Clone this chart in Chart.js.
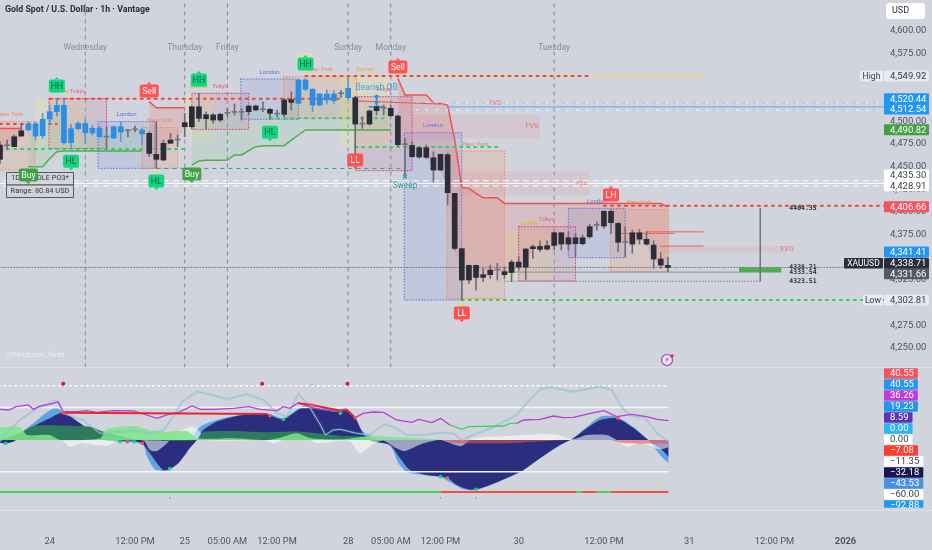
<!DOCTYPE html>
<html>
<head>
<meta charset="utf-8">
<title>Gold Spot / U.S. Dollar</title>
<script src="https://cdn.jsdelivr.net/npm/chart.js@4"></script>
<style>
  html, body { margin: 0; padding: 0; background: #d1d4dc; }
  canvas { display: block; }
</style>
</head>
<body>
<canvas id="chart" width="932" height="550"></canvas>
<script>
// candles, one per hour
const opens = [4473.8,4473.1,4483,4489.6,4490.4,4483.7,4484.1,4502.5,4510.6,4476.4,4476.4,4491.9,4487.4,4487,4483,4482.6,4481.5,4488.2,4489.6,4490.7,4486,4486.7,4463.5,4475.7,4479.3,4479.3,4498.5,4516.1,4516.1,4507.3,4507,4507.7,4508.8,4509.9,4509.9,4516.9,4516.9,4512.8,4513.2,4508,4523.5,4523.9,4519.8,4535.6,4518,4518,4523.5,4522.8,4530.5,4526.1,4526.1,4497,4511.4,4516.1,4514.3,4514.3,4505.8,4474.2,4473.4,4470.9,4470.9,4459.8,4463.5,4463.1,4420.5,4359.4,4341,4341,4330.7,4335.8,4335.8,4334,4344.6,4344.6,4359,4361.6,4361.9,4362.7,4377,4377,4371.5,4371.5,4371.5,4383.7,4385.1,4400.6,4400.6,4387.3,4366,4377,4377,4369.7,4363.4,4348,4341];
const highs = [4477.5,4479.3,4484.9,4497.7,4499.6,4499.6,4508.8,4518,4525,4525,4497,4499.6,4502.2,4495.9,4494.8,4494,4494.8,4499.6,4491,4494.8,4492.2,4488.5,4499.6,4479.3,4486.7,4484.9,4508.8,4516.9,4530.9,4510.6,4508.8,4508.8,4514.3,4519.1,4514.3,4518,4518,4521.6,4514.3,4512.5,4525.3,4532.7,4546.3,4547.4,4536.4,4530.9,4534.5,4533.8,4533.8,4549.9,4527.2,4505.1,4512.5,4529,4518,4518,4506.9,4481.2,4477.5,4472,4473.8,4466.5,4463.9,4464.6,4420.5,4359.7,4341.3,4341.3,4337.7,4341.3,4343.2,4339.5,4346.9,4350.5,4359.7,4363.4,4368.2,4368.2,4378.1,4377,4378.1,4376.3,4374.5,4386.6,4389.2,4401.3,4402,4388.1,4383.7,4380,4380.7,4378.1,4368.2,4355,4349.8];
const lows = [4453.6,4469,4472,4483.7,4489.6,4479.3,4481.2,4495.9,4505.8,4474.9,4470.1,4490.4,4475.7,4484.9,4482.3,4470.1,4481.2,4477.5,4483,4488.6,4473.8,4461,4448.1,4456.5,4475.7,4472,4483,4492.2,4499.6,4491.1,4497.7,4499.6,4505.8,4507,4501.4,4507,4511.7,4510.6,4502.2,4505.1,4505.1,4512.5,4519.1,4533.8,4510.6,4516.9,4519.1,4519.8,4526.4,4523.5,4464.6,4492.2,4495.9,4506.9,4506.9,4505.1,4472,4440.7,4460.2,4459.1,4459.1,4433.3,4445.5,4407.6,4357.9,4302.8,4321.1,4313.7,4322.9,4326.6,4324.8,4326.6,4322.9,4335.8,4324.8,4348.7,4356,4357.9,4357.9,4357.9,4357.9,4350.5,4363.4,4370.8,4380,4381.8,4376.3,4356,4350.5,4354.2,4364.5,4363.4,4337.6,4337.6,4334];
const closes = [4458,4473.1,4472,4483.7,4497,4497,4502.2,4510.6,4517.6,4517.6,4491.9,4497.7,4497.7,4492.2,4492.6,4482.6,4494,4494,4489.6,4490.7,4490.4,4464.6,4458,4457.3,4475.7,4479.3,4494,4494,4503.3,4502.9,4501.4,4501.4,4508.8,4509.9,4509.9,4510.6,4512.5,4512.8,4508.8,4508,4507.7,4520.9,4545.6,4545.6,4535.3,4530.1,4530.1,4530.1,4530.5,4536.4,4497,4497,4497,4511.7,4514.3,4506.2,4474.2,4474.2,4460.9,4460.6,4460.2,4446.2,4446.2,4421.2,4359.7,4324.8,4324.8,4327.7,4327.7,4330.7,4335.8,4330.7,4333.2,4339.1,4339.1,4359.4,4358.6,4359,4363,4364.5,4364.5,4364.9,4364.9,4372.6,4385.1,4384.4,4388.1,4366.4,4366,4364.5,4370,4364.5,4348,4341.3,4338.7];

// trailing stops
const redTrail = [4492,4492,4492,4492,null,null,null,null,null,null,null,null,null,null,null,null,null,null,null,null,null,4521.7,4515,4515,4515,4515,4515,null,null,null,null,null,null,null,null,null,null,null,null,null,null,null,null,null,null,null,null,null,null,null,null,null,null,null,null,null,4547.4,4529,4529,4529,4529,4520.6,4519.8,4518,4479.3,4427.1,4426,4420.5,4415.7,4415.7,4415.7,4409.4,4409.4,4409.4,4409.4,4409.4,4409.4,4409.4,4409.4,4409.4,4409.4,4409.4,4409.4,4409.4,4409.4,4409.4,4409.4,4409.4,4409.4,4409.4,4409.4,4409.4,4409.4,4409.4,4405.7];
const greenTrail = [null,null,null,null,4449.9,4449.9,4449.9,4459,4466.5,4467.2,4467.2,4467.2,4467.2,4467.2,4467.2,4467.2,4467.2,4467.2,4467.2,4467.2,4467.2,null,null,null,null,null,null,4451.7,4456.2,4456.9,4456.9,4456.9,4457.3,4462.8,4462.8,4467.6,4472,4472.7,4473.1,4473.1,4473.1,4479.3,4484.9,4490.4,4490.4,4490.4,4490.4,4490.4,4490.4,4490.4,4490.4,4490.4,4490.4,4490.4,4490.4,4490.4];

// session boxes
const sessionNames = ["New York","Sydney","Tokyo","London","New York","Sydney","Tokyo","London","New York","Sydney","Tokyo","London","New York","Sydney","Tokyo","London","New York"];
const sessionStart = [-2,4.9,6.9,13.8,20,26,27,33.9,39.9,47.9,50,56.9,62.9,71,73,80,85.9];
const sessionEnd = [4.9,12,15,21.8,25,30,35,42,50.2,54.9,58,65,71,78,81,88,94.1];
const sessionTop = [4499.6,4525.3,4525,4499.6,4493.3,4530.9,4530.9,4546.7,4549.3,4549.3,4527.2,4487.4,4467.2,4380,4383.7,4403.9,4402.8];
const sessionBottom = [4446.2,4472,4470.1,4448.1,4448.1,4481.2,4491.1,4502.2,4503.3,4472,4445.5,4302.7,4304.5,4322.9,4323.7,4349.4,4334];

// fair value gaps
const fvgStart = [58,65,92.9];
const fvgEnd = [76,83,110.8];
const fvgTop = [4507,4445,4362.3];
const fvgBottom = [4481.2,4418,4355];

// structure signals
const signalText = ["HH","Sell","HL","HH","Buy","Buy","HL","HL","HH","Sell","LL","LL","LH"];
const signalIndex = [8,21,10,28,4,27,22,38,43,56,50,65,86];
const signalPrice = [4539,4533.5,4456,4545.6,4440.7,4441.8,4434,4488,4563.2,4560,4457.3,4288.4,4418.7];

// x axis
const tickIndex = [7,19,26,32,39,49,55,62,73,85,97,109,119];
const tickText = ["24","12:00 PM","25","05:00 AM","12:00 PM","28","05:00 AM","12:00 PM","30","12:00 PM","31","12:00 PM","2026"];
const dayText = ["Wednesday","Thursday","Friday","Sunday","Monday","Tuesday"];
const dayIndex = [12,26,32,49,55,78];

// price tags on the right
const tagValues = [4549.92,4520.44,4512.54,4490.82,4435.30,4428.91,4406.66,4341.41,4338.71,4331.66,4302.81];
const tagKinds = ["high","blue","blue","green","white","white","red","blue","dark","grey","low"];
const tagNudge = [0,-4,-1,0,-5,0,1,-13,-4,0,0];

// oscillator pane, read at turning points
const navyX = [0,.9,2.1,4.7,7,8.9,11.3,13.1,15,16.9,18.8,20,21.1,22.1,23,23.9,25.1,26.3,27.7,28.6,30.5,32.9,35.2,37.6,39,39.9,41.3,42.7,44.6,46.9,47.9,48.8,50,51.1,52.3,54.9,56.3,57.7,60.1,62,63,64.3,65.9,67,69,71.3,73.7,76,78.4,80.7,82.6,84.5,86.8,89.2,91.5,92.9,94.1];
const navyY = [-3.3,-4.2,-.8,16.7,27.1,34.2,20.8,8.3,0,-.8,-.8,-4.2,-16.7,-29.2,-37.5,-36.3,-29.2,-14.6,0,12.5,22.9,29.2,32.1,32.1,27.1,25.8,33.3,40.8,39.6,35.4,35.4,37.5,27.9,8.3,-1.3,-6.3,-22.9,-37.5,-43.8,-45.8,-47.1,-56.3,-61.7,-61.7,-56.3,-47.9,-37.5,-22.9,-8.3,2.1,14.6,25,27.1,14.6,-2.1,-10.4,-20.8];
const blueX = [0,2.8,4.7,6.1,7.7,8.9,11.3,13.1,15,20,20.7,21.8,23,23.9,26.3,27,28.2,30.5,35.2,37.6,39.9,41.3,42.7,44.6,47.9,48.8,51.1,54.9,56.1,57.2,59.6,62,65.2,67,69,80.7,82.6,84.5,86.8,89.2,91.5,92.9,94.1];
const blueY = [-2.9,8.3,20.8,31.3,39.6,35.4,18.8,5,-.8,-5,-20.8,-36.7,-38.8,-37.5,-16.7,4.2,16.7,25,33.3,33.3,27.1,35.4,42.5,40.8,38.3,39.6,10.4,-7.5,-29.2,-39.6,-43.8,-46.7,-61.7,-62.5,-56.3,2.9,16.7,29.2,29.2,15.8,-2.1,-18.8,-29.2];
const darkGreenX = [0,2.8,4.7,9.4,12.7,14.6,19.7,27.7,28.2,28.6,32.9,37.6,42.3,47.9,51.1,52.5];
const darkGreenY = [0,8.3,17.5,17.9,16.7,10.4,0,0,6.3,10.4,11.3,9.6,10.4,5.4,4.2,0];
const lightGreenX = [0,2.8,3.8,7,8.5,14.1,15,18.8,21.1,23.5,26.3,27.7,32.9,37.6,39.9,41.8,43.7,47.9,51.1,52.5,57.2,61.5,62.4];
const lightGreenY = [15.8,15.8,6.3,6.3,0,2.1,13.3,17.5,12.5,10.4,11.3,2.1,2.1,0,4.2,8.3,2.1,.8,4.2,5,2.9,.8,0];
const paleX = [0,8.5,9.9,11.3,15,16.9,20.2,21.1,22.1,23.5,24.9,26.8,27.9,29.1,37.1,38.5,39.9,43.7,44.4,47.9,49.3,50.7,52.3,54,55.8,57,59.6,62,64.1,65,66.6,71.3,76,78.4,80.7,82.6,85.4,86.8,88.2,90.1,92.9,94.1];
const paleY = [0,0,-8.3,-4.2,-7.5,0,-.8,-12.5,-13.8,-4.2,8.3,16.7,12.5,0,0,-4.2,0,0,-4.2,-.8,-2.1,-16.7,-6.3,-.8,-10.4,-13.8,-4.2,0,-6.3,-7.5,2.1,5,7.1,6.3,1.3,6.3,6.3,0,-8.3,-3.3,-11.7,-9.2];
const salmonX = [62.4,63.8,66.6,70.4,73.2,77,79.8,86,86.3,88.2,94.1];
const salmonY = [0,-3.3,-4.2,-4.2,-3.3,-1.3,0,0,-.8,-4.2,-5];
const skyX = [0,.9,2.8,5.2,8,8.9,11.7,14.1,16.4,18.8,21.1,23,24.4,25.6,27.7,30,31.9,34.7,37.1,39,40.4,42,43.4,45.1,45.8,46.9,47.9,50.2,52.1,54,55.4,57.2,59.6,62,63.8,65,66.6,69,70.9,72.7,74.1,76,77.4,80.7,84.5,86.1,87.8,89.2,90.6,92.5,94.1];
const skyY = [-2.1,8.3,25,39.6,49.2,33.3,25,8.3,10.4,11.7,8.3,12.5,29.2,47.9,60.4,56.3,50.8,57.5,50,33.3,29.2,58.3,43.8,18.8,6.3,12.5,13.3,8.3,6.3,19.6,16.7,6.3,6.3,9.2,8.3,0,6.3,14.6,22.9,31.3,45.8,63.3,65.8,60.4,66.7,62.5,37.5,29.2,29.2,8.3,-2.1];
const magentaX = [0,1.2,2.3,4,4.7,5.6,7.5,8.2,8.9,10.8,12.2,13.6,16,18.8,20.2,22.1,23.5,25.1,27,28.2,30,32.9,35,36.6,39,39.9,40.8,42,43.4,45.1,47.9,48.8,50,51.1,52.5,54,55.8,58,58.9,60.8,62,63.3,66,72.7,73.7,76,77.9,79.3,80.7,83.1,85,86.8,88.9,91,92.5,94.1];
const magentaY = [38.3,37.5,41.7,43.8,38.3,42.5,45.8,47.9,35.4,35.4,36.7,34.6,36.7,36.3,32.5,27.1,31.3,34.2,42.5,38.3,38.3,39.6,41.7,38.3,36.7,41.7,39.6,46.7,41.7,38.3,35.4,38.3,27.9,33.3,35,34.6,25,22.1,25.8,21.7,27.1,18.8,null,20.8,25,25.8,30,27.9,28.3,33.3,36.7,29.2,32.1,29.2,25.8,24.2];
const limeX = [63.3,65,65.9,70.9,71.8,72.7];
const limeY = [18.8,13.3,16.7,17.5,20.8,20.8];
const redLineX = [8.9,37.6,39,42,43.9,47.9,48.8,50];
const redLineY = [34.2,32.5,null,45.8,43.8,36.7,37.5,27.9];
const greenDotX = [.8,16.9,18.9,23.9,39.9,47.9,62,67];
const greenDotY = [-4.2,-2.1,-2.1,-35.8,25.8,33.3,-45.8,-61.7];
const redDotX = [8.9,17.9,20,38,43.9,50,63,87];
const redDotY = [34.2,-2.1,-4.2,30.4,43.8,27.9,-47.1,27.1];
const alertDotX = [8.9,36.9,48.9];
const alertDotY = [70.4,70.4,70.4];
const faintDotX = [23.9,62,67,43.9];
const faintDotY = [-72.1,-72.1,-72.1,69.6];
const stateGreenRuns = [[-1,62],[81.1,81.9],[84,86]];
const stateRedRuns = [[62,81.1],[81.9,84],[86,94.1]];

// oscillator tags, top to bottom
const oscTagText = ["40.55","40.55","36.26","19.23","8.59","0.00","0.00","\u22127.08","\u221211.35","\u221232.18","\u221243.53","\u221260.00","\u221292.88"];
const oscTagFill = ["#f7525f","#2196f3","#c13bd6","#2196f3","#5e35b1","#29b6f6","#ffffff","#ff3d2e","#ffffff","#1a1450","#4a90e2","#ffffff","#2196f3"];

const fontFamily = "Roboto, sans-serif";
const sessionStyle = {
  "Sydney": { fill: "rgba(240,232,140,0.25)", line: null, text: "#e0b530" },
  "Tokyo": { fill: "rgba(190,110,150,0.18)", line: "#d9457a", text: "#e0608a" },
  "London": { fill: "rgba(110,130,225,0.16)", line: "#6b7be0", text: "#5f74d8" },
  "New York": { fill: "rgba(245,130,80,0.16)", line: "#f0925f", text: "#ef8a5a" },
};
const datasets = [];

function add(ds) {
  ds.order = -datasets.length; // later datasets sit on top
  datasets.push(ds);
}

function line(points, color, width, dash, axis) {
  add({
    type: "line", data: points, yAxisID: axis || "y", borderColor: color, borderWidth: width,
    borderDash: dash || [], pointRadius: 0, fill: false, tension: 0, spanGaps: false,
    borderCapStyle: dash && dash[0] < 3 ? "round" : "butt",
  });
}

function hline(price, from, to, color, width, dash) {
  line([{ x: from, y: price }, { x: to, y: price }], color, width, dash);
}

function box(x0, x1, top, bottom, color) {
  add({
    type: "line", data: [{ x: x0, y: top }, { x: x1, y: top }], yAxisID: "y", borderWidth: 0,
    pointRadius: 0, backgroundColor: color, fill: { value: bottom },
  });
}

function zip(xs, ys) {
  return xs.map((x, i) => ({ x: x, y: ys[i] }));
}

function oscArea(xs, ys, color) {
  add({
    type: "line", data: zip(xs, ys), yAxisID: "osc", borderWidth: 0, pointRadius: 0,
    backgroundColor: color, fill: { value: 0 }, tension: 0.25, spanGaps: false,
  });
}

function markers(points, axis, style, radius, color, rotation) {
  add({
    type: "line", data: points, yAxisID: axis, showLine: false, pointStyle: style, pointRadius: radius,
    pointBackgroundColor: color, pointBorderColor: color, pointBorderWidth: style === "crossRot" ? 1.5 : 0,
    pointRotation: rotation || 0,
  });
}

function trail(values, color, fillColor) {
  const points = values.map((v, i) => ({ x: i, y: v }));
  add({ type: "line", data: closes.map((v, i) => ({ x: i, y: v })), yAxisID: "y", borderWidth: 0, pointRadius: 0, fill: false });
  add({
    type: "line", data: points, yAxisID: "y", borderColor: color, borderWidth: 1.5, pointRadius: 0,
    backgroundColor: fillColor, fill: "-1", tension: 0, spanGaps: false,
  });
}

// vertical session separators
dayIndex.forEach((i) => line([{ x: i, y: 4630 }, { x: i, y: 4226 }], "#85888f", 1, [4, 4]));

// session and gap boxes
sessionNames.forEach((name, i) => {
  box(sessionStart[i], sessionEnd[i], sessionTop[i], sessionBottom[i], sessionStyle[name].fill);
});
fvgStart.forEach((s, i) => box(s, fvgEnd[i], fvgTop[i], fvgBottom[i], "rgba(240,90,110,0.10)"));
box(41.8, 44, 4576, 4567, "rgba(240,232,140,0.4)");
box(104, 110, 4338.7, 4333.2, "#4caf50");

trail(greenTrail, "#4caf50", "rgba(90,200,110,0.12)");
trail(redTrail, "#f0514f", "rgba(240,83,80,0.17)");

// session outlines
sessionNames.forEach((name, i) => {
  const st = sessionStyle[name];
  if (!st.line) return;
  line([
    { x: sessionStart[i], y: sessionTop[i] }, { x: sessionEnd[i], y: sessionTop[i] },
    { x: sessionEnd[i], y: sessionBottom[i] }, { x: sessionStart[i], y: sessionBottom[i] },
    { x: sessionStart[i], y: sessionTop[i] },
  ], st.line, 1, [1, 2]);
});

// levels
const dots = [2, 5];
hline(4338.71, -1, 119, "#70747c", 1, [1, 2]);
hline(4333.54, 71, 104, "#8b8e96", 1);
hline(4323.51, 71, 107, "#8b8e96", 1, [1, 2]);
hline(4549.92, 43, 99, "#f5dc5a", 2, [4, 3]);
hline(4549.92, 43, 83, "#f44336", 2, dots);
hline(4525, 7, 48, "#f44336", 2, dots);
hline(4497, -1, 8, "#f44336", 2, dots);
hline(4469.4, 1, 26, "#2fd06a", 2, dots);
hline(4503.3, 38, 54, "#2fd06a", 2, dots);
hline(4471.6, 50, 70, "#2fd06a", 2, dots);
hline(4448, 22, 57, "#26a69a", 1, [4, 4]);
hline(4406.66, 85, 124.5, "#f44336", 2, dots);
hline(4302.81, 65, 98.5, "#f5dc5a", 2, [4, 3]);
hline(4302.81, 65, 124.5, "#2fd06a", 2, dots);
hline(4516, 63, 124.5, "#74b2ec", 1.2);
hline(4520.44, 58, 124.5, "#f2f6fb", 1, [6, 4]);
hline(4512.54, 58, 124.5, "#f2f6fb", 1, [6, 4]);
hline(4520.44, 58, 124.5, "rgba(90,160,230,0.6)", 1, [4, 6]);
hline(4512.54, 58, 124.5, "rgba(90,160,230,0.6)", 1, [4, 6]);
hline(4434.4, -1, 124.5, "#ffffff", 1, [6, 4]);
hline(4431.5, -1, 124.5, "#ffffff", 1);
hline(4428.6, -1, 124.5, "#ffffff", 1, [6, 4]);
hline(4378, 90.9, 99, "#f0605a", 1);
hline(4376.3, 87.3, 95, "#f0605a", 1);
hline(4362.3, 92.9, 99, "#f0605a", 1);
hline(4516, 51.9, 54.2, "#2196f3", 1.5);
line([{ x: 50, y: 4522.5 }, { x: 62, y: 4519 }], "#e8504e", 1);
line([{ x: 107, y: 4404.35 }, { x: 107, y: 4323.51 }], "#70747c", 1.5);

// candles
add({
  type: "bar", yAxisID: "y", grouped: false, barThickness: 1,
  data: highs.map((h, i) => ({ x: i, y: [lows[i], h] })),
  backgroundColor: closes.map((c, i) => (c > opens[i] ? "#5b9ad5" : "#6c6f78")),
});
add({
  type: "bar", yAxisID: "y", grouped: false, barThickness: 5, minBarLength: 1,
  data: opens.map((o, i) => ({ x: i, y: [Math.min(o, closes[i]), Math.max(o, closes[i])] })),
  backgroundColor: closes.map((c, i) => (c > opens[i] ? "#2a8ee6" : c < opens[i] ? "#2a2e39" : "#72767f")),
});

markers([{ x: 53, y: 4526.8 }, { x: 53, y: 4520.5 }], "y", "triangle", 3, "#2196f3", 180);
markers([{ x: 43, y: 4554.4 }, { x: 22, y: 4444 }, { x: 65, y: 4297 }], "y", "triangle", 2.5, "#f2dc4a");
markers([{ x: 57, y: 4439 }], "y", "crossRot", 2.5, "#26a69a");

// oscillator pane
oscArea(blueX, blueY, "#5ea3e6");
oscArea(navyX, navyY, "#2b2e7e");
oscArea(paleX, paleY, "rgba(255,255,255,0.55)");
oscArea(salmonX, salmonY, "rgba(235,80,80,0.6)");
oscArea(darkGreenX, darkGreenY, "#2f7a5e");
oscArea(lightGreenX, lightGreenY, "rgba(125,230,135,0.85)");
line([{ x: -1, y: 40.5 }, { x: 94.1, y: 40.5 }], "#f4f6f9", 1.5, null, "osc");
line([{ x: -1, y: -39.6 }, { x: 94.1, y: -39.6 }], "#f4f6f9", 1.5, null, "osc");
line([{ x: -1, y: 67.9 }, { x: 94.1, y: 67.9 }], "#ffffff", 1.5, [1.5, 4], "osc");
line(zip(skyX, skyY), "rgba(150,170,190,0.2)", 3, null, "osc");
line(zip(skyX, skyY), "#8cc8dc", 1, null, "osc");
line(zip(magentaX, magentaY), "#b83fd8", 1.3, null, "osc");
line(zip(limeX, limeY), "#3ed35a", 1.3, null, "osc");
line(zip(redLineX, redLineY), "#e8272e", 2, null, "osc");
stateGreenRuns.forEach((r) => line([{ x: r[0], y: -65 }, { x: r[1], y: -65 }], "#45d25c", 2, null, "osc"));
stateRedRuns.forEach((r) => line([{ x: r[0], y: -65 }, { x: r[1], y: -65 }], "#f25040", 2, null, "osc"));
markers(zip(greenDotX, greenDotY), "osc", "circle", 1.8, "#12d67f");
markers(zip(redDotX, redDotY), "osc", "circle", 1.8, "#f7525f");
markers(zip(alertDotX, alertDotY), "osc", "circle", 2, "#e8112d");
markers(zip(faintDotX, faintDotY), "osc", "circle", 0.8, "#7f9a72");

function rr(ctx, x, y, w, h, r, fill, stroke) {
  ctx.beginPath();
  ctx.roundRect(x, y, w, h, r);
  if (fill) { ctx.fillStyle = fill; ctx.fill(); }
  if (stroke) { ctx.strokeStyle = stroke; ctx.lineWidth = 1; ctx.stroke(); }
}

function text(ctx, str, x, y, font, color, align) {
  ctx.font = font;
  ctx.fillStyle = color;
  ctx.textAlign = align || "center";
  ctx.textBaseline = "middle";
  ctx.fillText(str, x, y);
}

function drawSignal(ctx, label, x, y) {
  const st = {
    HH: ["#12d67f", "#0b5f3c", -1], HL: ["#12d67f", "#0b5f3c", 1],
    Sell: ["#ff5252", "#ffffff", -1], LH: ["#ff5252", "#ffffff", -1], LL: ["#ff5252", "#ffffff", 1],
    Buy: ["#43a047", "#ffffff", 1],
  }[label];
  const w = label.length > 2 ? 19 : 16;
  const h = 13;
  rr(ctx, x - w / 2, y - h / 2, w, h, 2, st[0]);
  ctx.beginPath();
  ctx.moveTo(x - 2.5, y + st[2] * h / 2);
  ctx.lineTo(x + 2.5, y + st[2] * h / 2);
  ctx.lineTo(x, y + st[2] * (h / 2 + 2.5));
  ctx.fillStyle = st[0];
  ctx.fill();
  text(ctx, label, x, y + 0.5, "8.7px " + fontFamily, st[1]);
}

const overlays = {
  id: "overlays",
  afterDatasetsDraw(chart) {
    const { ctx, scales } = chart;
    const px = (i) => scales.x.getPixelForValue(i);
    const py = (p) => scales.y.getPixelForValue(p);
    ctx.save();

    text(ctx, "Gold Spot / U.S. Dollar \u00b7 1h \u00b7 Vantage", 5, 10, "bold 8.8px " + fontFamily, "#2a2e39", "left");
    dayText.forEach((d, i) => text(ctx, d, px(dayIndex[i]), 48, "8.5px " + fontFamily, "#8a8d96"));

    sessionNames.forEach((name, i) => {
      const cx = Math.max(px((sessionStart[i] + sessionEnd[i]) / 2), 8);
      text(ctx, name, cx, py(sessionTop[i]) - 7, "6px " + fontFamily, sessionStyle[name].text);
    });
    const fvgColor = "rgba(232,90,90,0.75)";
    text(ctx, "FVG", px(69.7), py(4520), "6.5px " + fontFamily, fvgColor);
    text(ctx, "FVG", px(74.9), py(4494), "7px " + fontFamily, fvgColor);
    text(ctx, "FVG", px(81.9), py(4431), "6px " + fontFamily, fvgColor);
    text(ctx, "FVG", px(110.8), py(4358.5), "7px " + fontFamily, fvgColor);

    text(ctx, "Bearish OB", px(53), py(4536.7), "8.7px " + fontFamily, "#4f9fd8");
    text(ctx, "Sweep", px(57), py(4428.6), "8.3px " + fontFamily, "#2a9d8f");

    // projection levels
    const mono = "bold 6.5px 'DejaVu Sans Mono', monospace";
    text(ctx, "4404.35", 803, py(4404.35), mono, "#2a2e39");
    text(ctx, "4338.71", 803, py(4338.71), mono, "#2a2e39");
    text(ctx, "4333.54", 803, py(4333.54), mono, "#2a2e39");
    text(ctx, "4323.51", 803, py(4323.51), mono, "#2a2e39");

    // PO3 info box
    rr(ctx, 6.5, 172.5, 67, 12.5, 0, "rgba(209,212,220,0.9)", "#55585f");
    rr(ctx, 6.5, 185, 67, 12.5, 0, "rgba(209,212,220,0.9)", "#55585f");
    text(ctx, "1D CANDLE PO3*", 40, 178.5, "7.4px " + fontFamily, "#33363e");
    text(ctx, "Range: 80.84 USD", 40, 191, "7.4px " + fontFamily, "#33363e");

    signalText.forEach((s, i) => drawSignal(ctx, s, px(signalIndex[i]), py(signalPrice[i])));

    text(ctx, "@Nephrom_flash", 7, 355, "7.5px " + fontFamily, "rgba(240,242,246,0.8)", "left");

    // alert badge
    ctx.beginPath();
    ctx.arc(667, 360, 5.5, 0, Math.PI * 2);
    ctx.fillStyle = "#e6e2ee";
    ctx.fill();
    ctx.strokeStyle = "#9c3fc4";
    ctx.lineWidth = 1.2;
    ctx.stroke();
    text(ctx, "\u26a1", 667, 360, "7px 'DejaVu Sans', sans-serif", "#8e24aa");
    ctx.beginPath();
    ctx.arc(672, 356, 1.8, 0, Math.PI * 2);
    ctx.fillStyle = "#e53935";
    ctx.fill();

    ctx.restore();
  },
  afterDraw(chart) {
    const { ctx, scales } = chart;
    const py = (p) => scales.y.getPixelForValue(p);
    ctx.save();
    // pane separators
    ctx.strokeStyle = "rgba(255,255,255,0.3)";
    ctx.lineWidth = 1;
    [367.5, 510.5].forEach((y) => {
      ctx.beginPath();
      ctx.moveTo(0, y);
      ctx.lineTo(932, y);
      ctx.stroke();
    });

    rr(ctx, 886, 3, 39, 16, 3, "#ffffff");
    text(ctx, "USD", 892, 11, "9px " + fontFamily, "#2a2e39", "left");

    const tagStyle = {
      high: ["rgba(235,240,247,0.85)", "#3a3d45"], low: ["rgba(235,240,247,0.85)", "#3a3d45"],
      blue: ["#2196f3", "#ffffff"], green: ["#43a047", "#ffffff"], red: ["#f7525f", "#ffffff"],
      white: ["#ffffff", "#3a3d45"], dark: ["#2a2e39", "#ffffff"], grey: ["#575a63", "#ffffff"],
    };
    tagValues.forEach((v, i) => {
      const st = tagStyle[tagKinds[i]];
      const y = py(v) + tagNudge[i];
      rr(ctx, 884, y - 5.5, 45, 11, 1, st[0]);
      const label = v.toLocaleString("en-US", { minimumFractionDigits: 2 });
      text(ctx, label, 890, y + 0.5, "9.5px " + fontFamily, st[1], "left");
    });
    rr(ctx, 860, py(4549.92) - 5.5, 23, 11, 1, tagStyle.high[0]);
    text(ctx, "High", 871.5, py(4549.92) + 0.5, "8.7px " + fontFamily, "#3a3d45");
    rr(ctx, 863, py(4302.81) - 5.5, 20, 11, 1, tagStyle.low[0]);
    text(ctx, "Low", 873, py(4302.81) + 0.5, "8.7px " + fontFamily, "#3a3d45");
    rr(ctx, 844, 258, 39, 10.5, 1, "#2a2e39");
    text(ctx, "XAUUSD", 863.5, 263.5, "8.5px " + fontFamily, "#ffffff");

    oscTagText.forEach((t, i) => {
      const y = 373.3 + i * 11;
      ctx.font = "9.5px " + fontFamily;
      const w = ctx.measureText(t).width + 10;
      const fill = oscTagFill[i];
      const h = i === oscTagText.length - 1 ? 7 : 10;
      rr(ctx, 884, y - 5, w, h + 0.5, 1, fill);
      ctx.save();
      ctx.beginPath();
      ctx.rect(884, y - 5, 60, h + 0.5);
      ctx.clip();
      text(ctx, t, 890, y + 0.5, "9.5px " + fontFamily, fill === "#ffffff" ? "#3a3d45" : "#ffffff", "left");
      ctx.restore();
    });
    ctx.restore();
  },
};

// no extra room for tick labels, the plot runs edge to edge
function noPadding(axis) {
  axis.paddingLeft = 0;
  axis.paddingRight = 0;
  axis.paddingTop = 0;
  axis.paddingBottom = 0;
}

new Chart(document.getElementById("chart"), {
  type: "bar",
  data: { datasets: datasets },
  options: {
    responsive: false,
    animation: false,
    events: [],
    layout: { padding: 0, autoPadding: false },
    plugins: { legend: { display: false }, tooltip: { enabled: false } },
    scales: {
      x: {
        type: "linear", min: 0, max: 124.42, offset: false,
        grid: { display: false, drawTicks: false }, border: { display: false },
        afterBuildTicks(axis) { axis.ticks = tickIndex.map((v) => ({ value: v })); },
        afterFit(axis) { axis.height = 23; noPadding(axis); },
        ticks: {
          autoSkip: false, maxRotation: 0, padding: 9, color: "#50535e",
          font: (c) => ({ family: fontFamily, size: 9.3, weight: c.tick && c.tick.value === 119 ? "bold" : "normal" }),
          callback: (v) => tickText[tickIndex.indexOf(v)],
        },
      },
      y: {
        position: "right", min: 4052.2, max: 4633.9,
        grid: { display: false, drawTicks: false }, border: { display: false },
        afterFit(axis) { axis.width = 48; noPadding(axis); },
        ticks: {
          stepSize: 25, includeBounds: false, autoSkip: false, padding: 6, color: "#50535e",
          font: { family: fontFamily, size: 9.5 },
          callback: (v) => (v < 4250 || v > 4600 ? null : v.toLocaleString("en-US", { minimumFractionDigits: 2 })),
        },
      },
      osc: { display: false, min: -108.75, max: 550 },
    },
  },
  plugins: [overlays],
});
</script>
</body>
</html>
